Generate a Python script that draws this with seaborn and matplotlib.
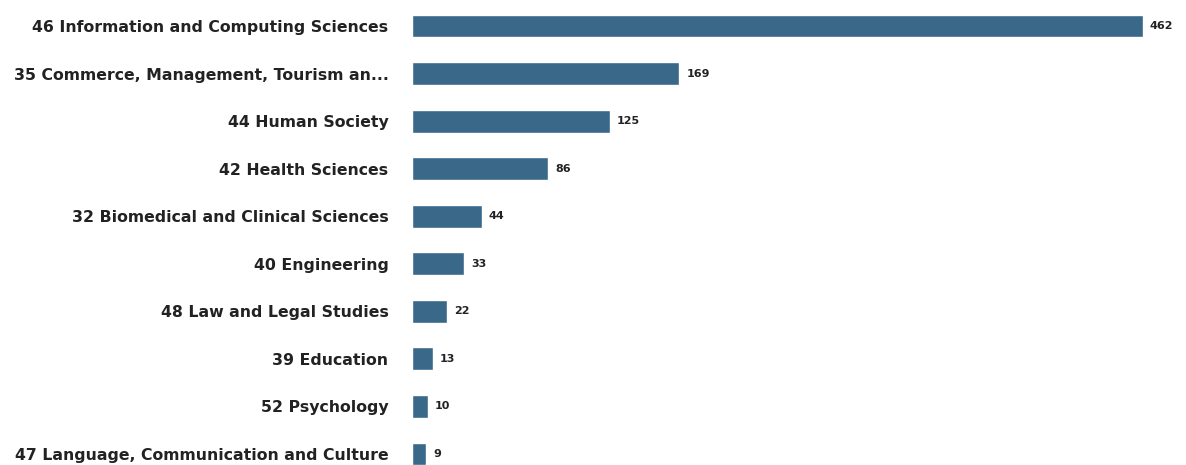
import matplotlib
matplotlib.use("Agg")
import matplotlib.pyplot as plt
import seaborn as sns
import pandas as pd

categories = [
    "46 Information and Computing Sciences",
    "35 Commerce, Management, Tourism an...",
    "44 Human Society",
    "42 Health Sciences",
    "32 Biomedical and Clinical Sciences",
    "40 Engineering",
    "48 Law and Legal Studies",
    "39 Education",
    "52 Psychology",
    "47 Language, Communication and Culture",
]
values = [462, 169, 125, 86, 44, 33, 22, 13, 10, 9]

sns.set_theme(style="white")
plt.rcParams['font.family'] = ['DejaVu Sans']

df = pd.DataFrame({"category": categories, "value": values})

fig = plt.figure(figsize=(11.86, 4.65), dpi=100)
ax = fig.add_axes([412/1186, 0, (1143-412)/1186, 1])
sns.barplot(data=df, x="value", y="category", color="#3a6889", width=0.48,
            saturation=1, ax=ax, orient="h")
ax.set_xlim(0, 462)
top_c = -26/47.6
bot_c = 9 + (465-454)/47.6
ax.set_ylim(bot_c, top_c)
ax.set_xlabel("")
ax.set_ylabel("")
ax.set_xticks([])
for s in ax.spines.values():
    s.set_visible(False)
ax.tick_params(axis="y", length=0, pad=17)
for lab in ax.get_yticklabels():
    lab.set_fontsize(11.3)
    lab.set_fontweight("bold")
    lab.set_color("#222222")
for i, v in enumerate(values):
    ax.annotate(str(v), xy=(v, i), xytext=(5, 0), textcoords="offset points",
                va="center", ha="left", fontsize=8, fontweight="bold",
                color="#222222", annotation_clip=False)

fig.savefig("out.png", dpi=100)
